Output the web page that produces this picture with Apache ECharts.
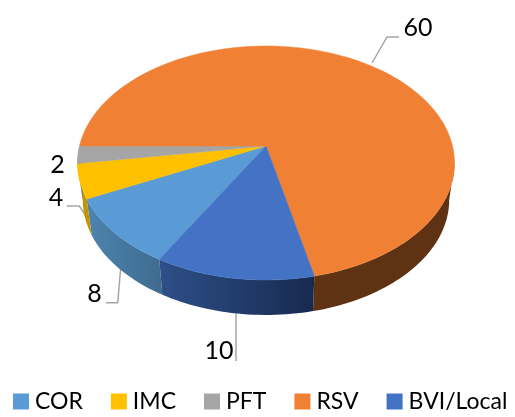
<!DOCTYPE html>
<html><head><meta charset="utf-8">
<style>html,body{margin:0;padding:0;background:#fff}#c{width:515px;height:417px}</style>
<script src="https://cdn.jsdelivr.net/npm/echarts@6/dist/echarts.min.js"></script>
</head><body><div id="c"></div>
<script>
const categories = ['COR','IMC','PFT','RSV','BVI/Local'];
const values = [8,4,2,60,10];
const topColors = ['#5b9bd5','#ffc000','#a5a5a5','#f08033','#4472c4'];
const sideLeftColors = ['#4c84b0','#c39400','#7a7a7a','#5f3214','#2d4f88'];
const sideRightColors = ['#3f6b8e','#c39400','#7a7a7a','#5f3214','#172a4f'];
// placement of the data labels and their leader lines
const labelPlaces = [
  {x:94.5,y:294,line:[[120.7,268],[117.7,302.7],[106,302.7]]},
  {x:56,y:198,line:[[66.7,206],[79.3,206],[86.7,217]]},
  {x:57.5,y:165,line:null},
  {x:418,y:28,line:[[372,63],[387,37],[399,37]]},
  {x:219,y:351,line:[[236,313],[236,361]]}
];
const FONT = 'Lato, Carlito, "Open Sans", sans-serif';
// perspective view of the pie disc
const apex = {x:266,y:146}, R = 186.5, S = 114.5, K = 0.1453;
const firstAngle = 120, depth = 37, bottomScaleX = 0.972, bottomScaleY = 0.985;
const sideFrom = 368.4, sideTo = 480, sideFrom2 = 120, sideTo2 = 180;
function topPt(a){const r=a*Math.PI/180,d=1-K*Math.sin(r);
  return [apex.x+R*Math.cos(r)/d, apex.y+S*Math.sin(r)/d];}
function botPt(a){const p=topPt(a);
  return [apex.x+(p[0]-apex.x)*bottomScaleX, apex.y+(p[1]-apex.y)*bottomScaleY+depth];}
function arc(f,a0,a1){const pts=[],n=Math.max(2,Math.ceil(Math.abs(a1-a0)/1.5));
  for(let i=0;i<=n;i++)pts.push(f(a0+(a1-a0)*i/n));return pts;}
const total = values.reduce((s,v)=>s+v,0);
function sliceRange(i){let a=firstAngle;for(let j=0;j<i;j++)a+=values[j]/total*360;
  return [a,a+values[i]/total*360];}
function sidePoly(a0,a1){return arc(topPt,a0,a1).concat(arc(botPt,a1,a0));}
function renderSlice(i){
  const [a0,a1]=sliceRange(i), kids=[];
  kids.push({type:'polygon',z2:10,shape:{points:[[apex.x,apex.y]].concat(arc(topPt,a0,a1))},
    style:{fill:topColors[i],stroke:topColors[i],lineWidth:0.5}});
  [[sideFrom,sideTo],[sideFrom2,sideTo2]].forEach(([f,t])=>{
    const s=Math.max(a0,f), e=Math.min(a1,t);
    if(e>s){
      const pts=sidePoly(s,e), xs=pts.map(p=>p[0]);
      const minX=Math.min(...xs), maxX=Math.max(...xs);
      const grad=new echarts.graphic.LinearGradient(minX,0,maxX,0,[
        {offset:0,color:sideLeftColors[i]},{offset:1,color:sideRightColors[i]}],true);
      kids.push({type:'polygon',z2:2,shape:{points:pts},style:{fill:grad}});
    }
  });
  const p=labelPlaces[i];
  if(p.line)kids.push({type:'polyline',z2:1,shape:{points:p.line},
    style:{stroke:'#a6a6a6',lineWidth:1.5,fill:null}});
  kids.push({type:'text',z2:20,style:{text:String(values[i]),x:p.x,y:p.y,fill:'#000',
    font:'25px '+FONT,align:'center',verticalAlign:'middle'}});
  return {type:'group',children:kids};
}
const chart = echarts.init(document.getElementById('c'),null,{renderer:'canvas'});
chart.setOption({
  animation:false,
  legend:{left:13,top:390,padding:0,width:502,itemWidth:16,itemHeight:16,itemGap:28,icon:'rect',selectedMode:false,
    data:categories,
    textStyle:{fontFamily:FONT,fontSize:23,color:'#000',padding:[0,0,0,1]}},
  series:categories.map((name,i)=>({
    type:'custom',name,coordinateSystem:'none',silent:true,
    itemStyle:{color:topColors[i]},
    data:[values[i]],
    renderItem:()=>renderSlice(i)
  }))
});
</script></body></html>
